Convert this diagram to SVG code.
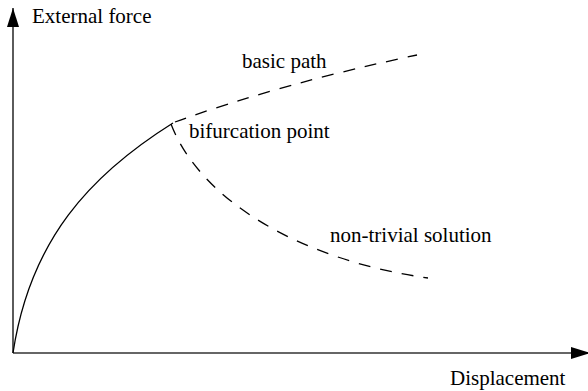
<svg xmlns="http://www.w3.org/2000/svg" width="588" height="391" viewBox="0 0 588 391">
  <style>
    .axis { stroke: #333; stroke-width: 1.6; fill: none; }
    .curve { stroke: #000; stroke-width: 1.3; fill: none; }
    .dash { stroke: #000; stroke-width: 1.3; fill: none; stroke-dasharray: 12 10; }
    .label { font-family: "Liberation Serif", "Times New Roman", "DejaVu Serif", serif; font-size: 21px; fill: #000; }
  </style>
  <defs>
    <marker id="arrow" viewBox="0 0 19 12" refX="19" refY="6" markerWidth="19" markerHeight="12" markerUnits="userSpaceOnUse" orient="auto">
      <path d="M0,0 L19,6 L0,12 Z" fill="#000"/>
    </marker>
  </defs>

  <!-- axes -->
  <g id="axes">
    <line class="axis" x1="13" y1="353" x2="13" y2="8" marker-end="url(#arrow)"/>
    <line class="axis" x1="13" y1="353" x2="590" y2="353" marker-end="url(#arrow)"/>
    <text class="label" font-family="Liberation Serif, serif" x="32" y="23">External force</text>
    <text class="label" font-family="Liberation Serif, serif" x="450" y="385">Displacement</text>
  </g>

  <!-- load-displacement curves -->
  <g id="connectors">
    <path id="pre-buckling" class="curve" d="M13,353 C30,240 90,175 173,123"/>
    <path id="basic-path" class="dash" d="M175,122 Q280,84 417,55"/>
    <path id="non-trivial-path" class="dash" d="M171,124 C200,200 300,260 428,278"/>
  </g>

  <g id="basic-path-label"><text class="label" font-family="Liberation Serif, serif" x="242" y="68">basic path</text></g>
  <g id="bifurcation-label"><text class="label" font-family="Liberation Serif, serif" x="189" y="138">bifurcation point</text></g>
  <g id="solution-label"><text class="label" font-family="Liberation Serif, serif" x="330" y="242">non-trivial solution</text></g>
</svg>
